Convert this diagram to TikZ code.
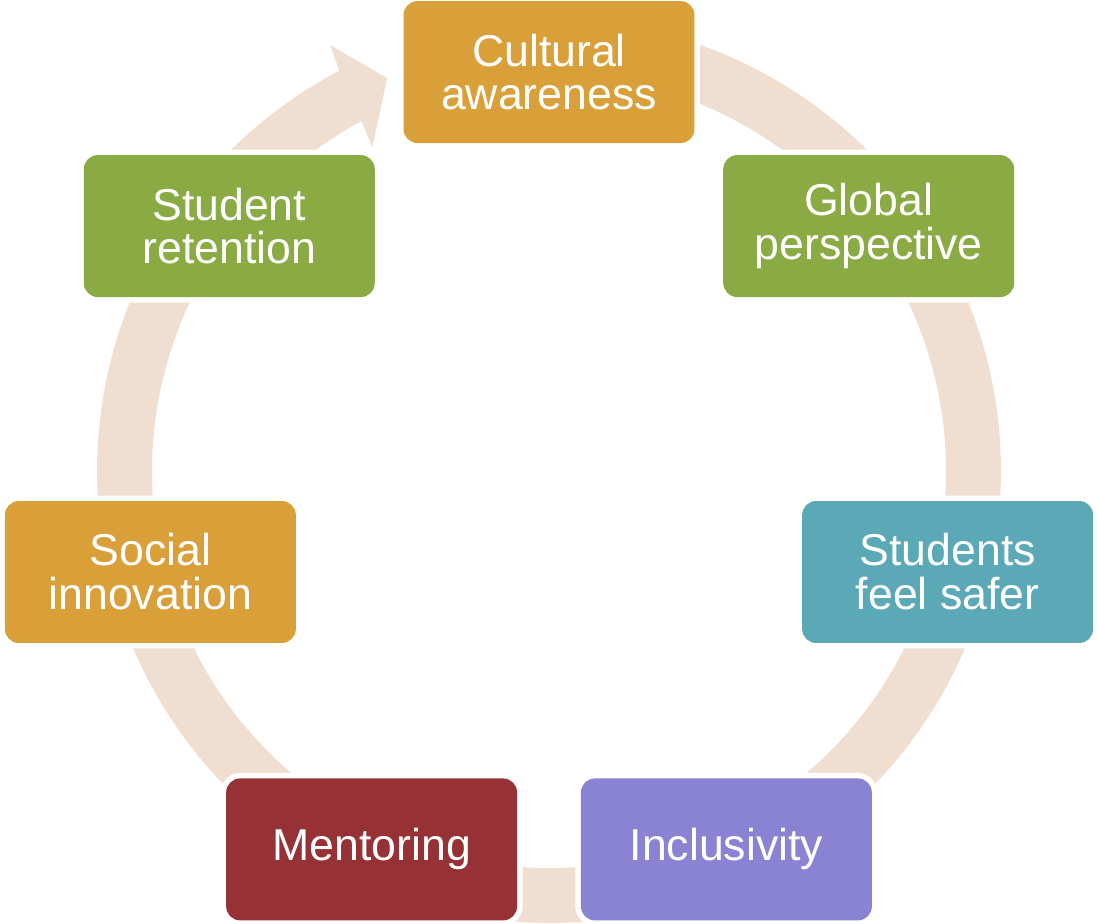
\documentclass[tikz,border=0pt]{standalone}
\usepackage{fontspec}
\setmainfont{Liberation Sans}
\usepackage{xcolor}
\usetikzlibrary{calc}

\definecolor{cyclegold}{HTML}{D9A03A}
\definecolor{cyclegreen}{HTML}{8AAA44}
\definecolor{cycleteal}{HTML}{5BA8B6}
\definecolor{cyclepurple}{HTML}{8A83D3}
\definecolor{cyclered}{HTML}{963235}
\definecolor{ringfill}{HTML}{F0DFD0}

\begin{document}
\begin{tikzpicture}[x=0.02cm, y=0.02cm]
                % Define the style for the boxes of the cycle
                \tikzset{box/.style={rounded corners=0.28cm, fill=#1, text=white, align=center,
                    minimum width=5.82cm, minimum height=2.84cm, inner sep=0pt,
                    font=\fontsize{25.4}{25}\selectfont,
                    preaction={draw=white, line width=0.22cm}}}
                
                \useasboundingbox (0,0) rectangle (1097,923);
                
                % Define the centres of the ring and of the boxes
                \coordinate (ring) at (549,452);
                \coordinate (hub) at (549,442);
                
                % Draw the ring with its arrow head
                \fill[ringfill] ($(ring)+(85:9.04cm)$) arc[start angle=85, end angle=-242.35, radius=9.04cm]
                    -- ($(ring)+(-242.8:9.58cm)$) -- ($(ring)+(-247.6:8.5cm)$) -- ($(ring)+(-241.4:7.38cm)$)
                    -- ($(ring)+(-241.8:7.94cm)$) arc[start angle=-241.8, end angle=85, radius=7.94cm] -- cycle;
                
                % Place the boxes around the ring
                \node[box=cyclegold] (cultural) at ($(hub)+(90:8.18cm)$) {Cultural\\awareness};
                \node[box=cyclegreen] (global) at ($(hub)+(38.57:8.18cm)$) {Global\\perspective};
                \node[box=cycleteal] (safer) at ($(hub)+(-12.86:8.18cm)$) {Students\\feel safer};
                \node[box=cyclepurple] (inclusivity) at ($(hub)+(-64.29:8.18cm)$) {Inclusivity};
                \node[box=cyclered] (mentoring) at ($(hub)+(-115.71:8.18cm)$) {Mentoring};
                \node[box=cyclegold] (social) at ($(hub)+(-167.14:8.18cm)$) {Social\\innovation};
                \node[box=cyclegreen] (retention) at ($(hub)+(141.43:8.18cm)$) {Student\\retention};
            \end{tikzpicture}
\end{document}
